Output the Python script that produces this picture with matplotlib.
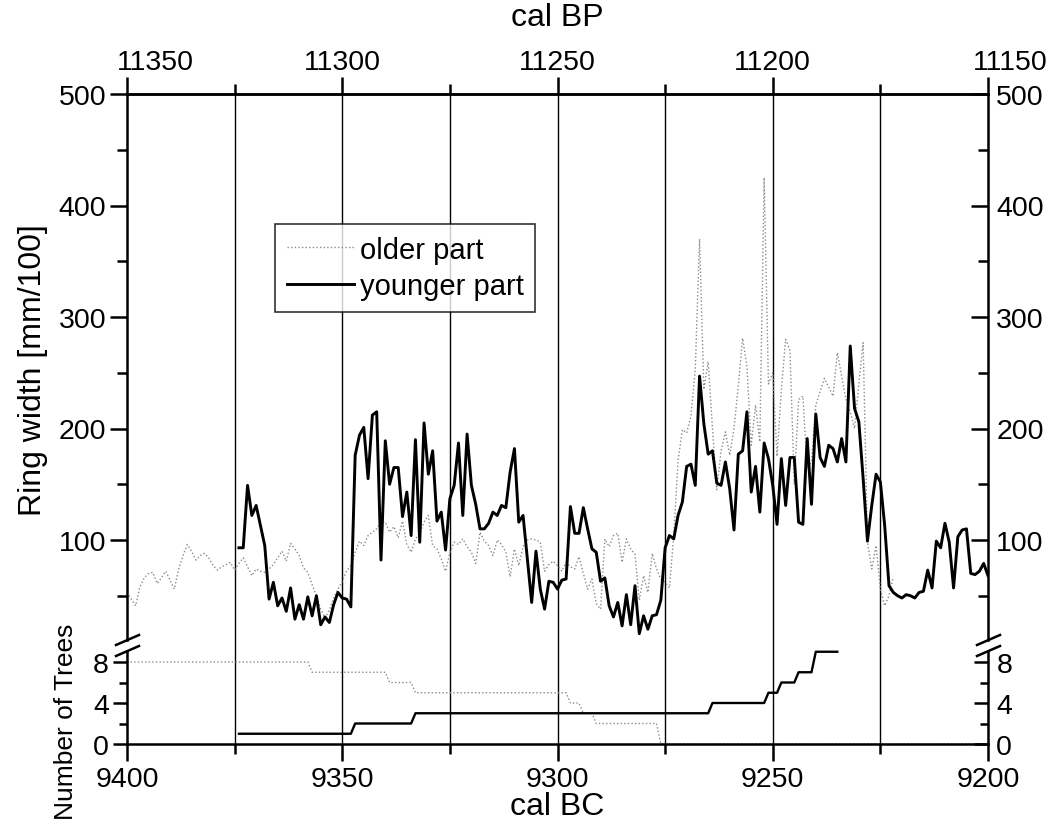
import matplotlib
matplotlib.use("Agg")
import matplotlib.pyplot as plt
import numpy as np
from matplotlib.lines import Line2D
from matplotlib.ticker import MultipleLocator
import matplotlib.transforms as mtransforms

plt.rcParams['font.family'] = ['Liberation Sans', 'DejaVu Sans']

# ---------------- data ----------------
older_start = 9400  # cal BC, one value per year going younger
older_width = [
    53, 47, 41, 58, 66, 70, 71, 61, 66, 72,
    64, 56, 74, 86, 96, 90, 82, 86, 88, 84,
    77, 73, 76, 78, 80, 73, 79, 84, 76, 68,
    74, 72, 71, 74, 78, 84, 90, 81, 97, 92,
    86, 75, 71, 60, 50, 38, 30, 37, 48, 56,
    63, 72, 77, 89, 99, 95, 104, 107, 110, 116,
    116, 107, 112, 102, 117, 96, 89, 101, 106, 116,
    122, 95, 92, 83, 72, 89, 98, 96, 101, 94,
    89, 79, 107, 99, 95, 86, 100, 96, 89, 67,
    92, 77, 94, 100, 101, 100, 98, 72, 78, 81,
    77, 72, 80, 76, 74, 85, 70, 56, 65, 43,
    38, 101, 94, 104, 106, 80, 101, 92, 87, 46,
    68, 53, 88, 74, 65, 62, 57, 104, 171, 199,
    196, 211, 253, 370, 235, 260, 200, 145, 180, 197,
    176, 200, 238, 281, 256, 185, 221, 188, 425, 240,
    250, 175, 235, 280, 270, 150, 226, 229, 164, 170,
    221, 233, 245, 237, 229, 268, 247, 226, 215, 200,
    240, 277, 98, 74, 95, 56, 41, 50, 67,
]

younger_start = 9374
younger_width = [
    93, 93, 149, 122, 131, 113, 95, 47, 62, 41,
    48, 36, 57, 29, 42, 29, 49, 32, 50, 24,
    31, 26, 42, 53, 48, 47, 40, 176, 194, 201,
    155, 212, 215, 82, 189, 150, 165, 165, 121, 143,
    104, 190, 98, 205, 159, 180, 117, 125, 91, 137,
    149, 187, 122, 195, 149, 132, 110, 110, 115, 125,
    122, 131, 129, 161, 182, 116, 122, 83, 44, 90,
    56, 38, 63, 62, 56, 64, 65, 130, 106, 106,
    129, 110, 92, 89, 63, 66, 41, 31, 44, 23,
    51, 24, 59, 16, 32, 20, 32, 33, 46, 93,
    104, 101, 122, 134, 166, 168, 149, 247, 204, 177,
    180, 151, 149, 170, 146, 109, 177, 180, 215, 143,
    166, 125, 187, 173, 149, 114, 173, 131, 174, 174,
    116, 114, 191, 132, 213, 174, 166, 185, 182, 170,
    191, 170, 274, 218, 206, 155, 99, 131, 159, 152,
    113, 59, 53, 50, 48, 51, 50, 48, 53, 54,
    73, 57, 99, 93, 115, 98, 57, 103, 109, 110,
    70, 69, 72, 79, 68,
]

# number of trees: (first year of the level, level)
older_trees_runs = [(9400, 8), (9357, 7), (9339, 6), (9333, 5),
                    (9297, 4), (9294, 3), (9291, 2), (9276, 0)]
older_trees_end = 9200
younger_trees_runs = [(9374, 1), (9347, 2), (9333, 3), (9264, 4),
                      (9251, 5), (9248, 6), (9244, 7), (9240, 9)]
younger_trees_end = 9235

grid_years = [9375, 9350, 9325, 9300, 9275, 9250, 9225]
bc_ticks = [9400, 9350, 9300, 9250, 9200]
bp_ticks = [11350, 11300, 11250, 11200, 11150]
width_ticks = [100, 200, 300, 400, 500]
tree_ticks = [0, 4, 8]


def expand(runs, end):
    yrs, vals = [], []
    for i, (start, v) in enumerate(runs):
        stop = runs[i + 1][0] if i + 1 < len(runs) else end - 1
        for y in range(start, stop, -1):
            yrs.append(y)
            vals.append(v)
    return yrs, vals


older_years = [older_start - i for i in range(len(older_width))]
younger_years = [younger_start - i for i in range(len(younger_width))]
oty, otv = expand(older_trees_runs, older_trees_end)
yty, ytv = expand(younger_trees_runs, younger_trees_end)

# ---------------- layout ----------------
W_PX, H_PX = 1047, 828
fig = plt.figure(figsize=(W_PX / 100, H_PX / 100), dpi=100)

X0, X1 = 127, 988
Y_TOP, Y_BRK1, Y_BRK2, Y_BOT = 95, 641, 652, 745


def fx(px):
    return px / W_PX


def fy(py):
    return 1 - py / H_PX


ax_t = fig.add_axes([fx(X0), fy(Y_BRK1), fx(X1 - X0), (Y_BRK1 - Y_TOP) / H_PX])
ax_b = fig.add_axes([fx(X0), fy(Y_BOT), fx(X1 - X0), (Y_BOT - Y_BRK2) / H_PX])

upper_lo = 500 - (Y_BRK1 - Y_TOP) / 1.115
lower_hi = (Y_BOT - Y_BRK2) / 10.25

SPW = 1.8
TICKFS = 20.5
LABFS = 23
gray = '#8a8a8a'
dot = (0, (1, 1.6))

for ax in (ax_t, ax_b):
    ax.set_xlim(9400, 9200)
    for s in ax.spines.values():
        s.set_linewidth(SPW)
        s.set_zorder(5)

ax_t.set_ylim(upper_lo, 500)
ax_b.set_ylim(0, lower_hi)

# vertical reference lines
gap_frac = (Y_BRK2 - Y_BRK1) / (Y_BRK1 - Y_TOP)
for g in grid_years:
    ax_t.axvline(g, ymin=-gap_frac, ymax=1, color='black', lw=1.0, clip_on=False, zorder=1)
    ax_b.axvline(g, color='black', lw=1.0, zorder=1)

# ring width
l_old, = ax_t.plot(older_years, older_width, color=gray, lw=1.0, ls=dot, zorder=2)
l_young, = ax_t.plot(younger_years, younger_width, color='black', lw=2.1, zorder=3)

# number of trees
ax_b.plot(oty, otv, color=gray, lw=1.0, ls=dot, zorder=2, clip_on=False)
ax_b.plot(yty, ytv, color='black', lw=1.7, zorder=3, clip_on=False)

# spines
ax_t.spines['bottom'].set_visible(False)
ax_b.spines['top'].set_visible(False)

# upper axis ticks
ax_t.tick_params(axis='x', which='both', bottom=False, labelbottom=False, top=False, labeltop=False)
ax_t.yaxis.set_major_locator(plt.FixedLocator(width_ticks))
ax_t.yaxis.set_minor_locator(MultipleLocator(50))
ax_t.tick_params(axis='y', which='major', direction='out', length=12, width=SPW,
                 labelsize=TICKFS, pad=3)
ax_t.tick_params(axis='y', which='minor', direction='out', length=7, width=SPW)

ax_tr = ax_t.twinx()
ax_tr.set_ylim(ax_t.get_ylim())
ax_tr.set_frame_on(False)
ax_tr.yaxis.set_major_locator(plt.FixedLocator(width_ticks))
ax_tr.yaxis.set_minor_locator(MultipleLocator(50))
ax_tr.tick_params(axis='y', which='major', direction='in', length=12, width=SPW,
                  labelsize=TICKFS, pad=6)
ax_tr.tick_params(axis='y', which='minor', direction='in', length=7, width=SPW)

# top cal BP axis
sec = ax_t.secondary_xaxis('top', functions=(lambda x: x + 1950, lambda x: x - 1950))
sec.spines['top'].set_linewidth(SPW)
sec.xaxis.set_major_locator(plt.FixedLocator(bp_ticks))
sec.xaxis.set_minor_locator(MultipleLocator(25))
sec.tick_params(axis='x', which='major', direction='out', length=12, width=SPW,
                labelsize=TICKFS, pad=2)
sec.tick_params(axis='x', which='minor', direction='out', length=7, width=SPW)
fig.canvas.draw()
tl = sec.xaxis.get_majorticklabels()
tl[0].set_transform(tl[0].get_transform() + mtransforms.ScaledTranslation(28 / 100, 0, fig.dpi_scale_trans))
tl[-1].set_transform(tl[-1].get_transform() + mtransforms.ScaledTranslation(22 / 100, 0, fig.dpi_scale_trans))

# lower axis ticks
ax_b.xaxis.set_major_locator(plt.FixedLocator(bc_ticks))
ax_b.xaxis.set_minor_locator(MultipleLocator(25))
ax_b.tick_params(axis='x', which='major', direction='out', length=12, width=SPW,
                 labelsize=TICKFS, pad=4)
ax_b.tick_params(axis='x', which='minor', direction='out', length=7, width=SPW)
ax_b.yaxis.set_major_locator(plt.FixedLocator(tree_ticks))
ax_b.yaxis.set_minor_locator(MultipleLocator(2))
ax_b.tick_params(axis='y', which='major', direction='out', length=10, width=SPW,
                 labelsize=TICKFS, pad=3)
ax_b.tick_params(axis='y', which='minor', direction='out', length=6, width=SPW)

ax_br = ax_b.twinx()
ax_br.set_ylim(ax_b.get_ylim())
ax_br.set_frame_on(False)
ax_br.yaxis.set_major_locator(plt.FixedLocator(tree_ticks))
ax_br.yaxis.set_minor_locator(MultipleLocator(2))
ax_br.tick_params(axis='y', which='major', direction='in', length=10, width=SPW,
                  labelsize=TICKFS, pad=6)
ax_br.tick_params(axis='y', which='minor', direction='in', length=6, width=SPW)

# axis labels
fig.text(fx(557), fy(18), 'cal BP', ha='center', va='center', fontsize=LABFS)
fig.text(fx(557), fy(807), 'cal BC', ha='center', va='center', fontsize=LABFS)
fig.text(fx(33), fy(370), 'Ring width [mm/100]', rotation=90, ha='center', va='center', fontsize=LABFS)
fig.text(fx(66), fy(722), 'Number of Trees', rotation=90, ha='center', va='center', fontsize=19)

# axis break marks
for xs in (X0, X1):
    for yc in (641, 652):
        fig.add_artist(Line2D([fx(xs - 11), fx(xs + 12)], [fy(yc + 5), fy(yc - 5)],
                              color='black', lw=SPW, transform=fig.transFigure))

# legend
leg = ax_t.legend([l_old, l_young], ['older part', 'younger part'],
                  loc='upper left',
                  bbox_to_anchor=((275 - X0) / (X1 - X0), (Y_BRK1 - 225) / (Y_BRK1 - Y_TOP)),
                  fontsize=21, frameon=True, fancybox=False, edgecolor='black',
                  handlelength=2.3, handletextpad=0.2, borderpad=0.4, labelspacing=0.3,
                  borderaxespad=0)
leg.get_frame().set_linewidth(1.2)

fig.savefig('out.png', dpi=100)
